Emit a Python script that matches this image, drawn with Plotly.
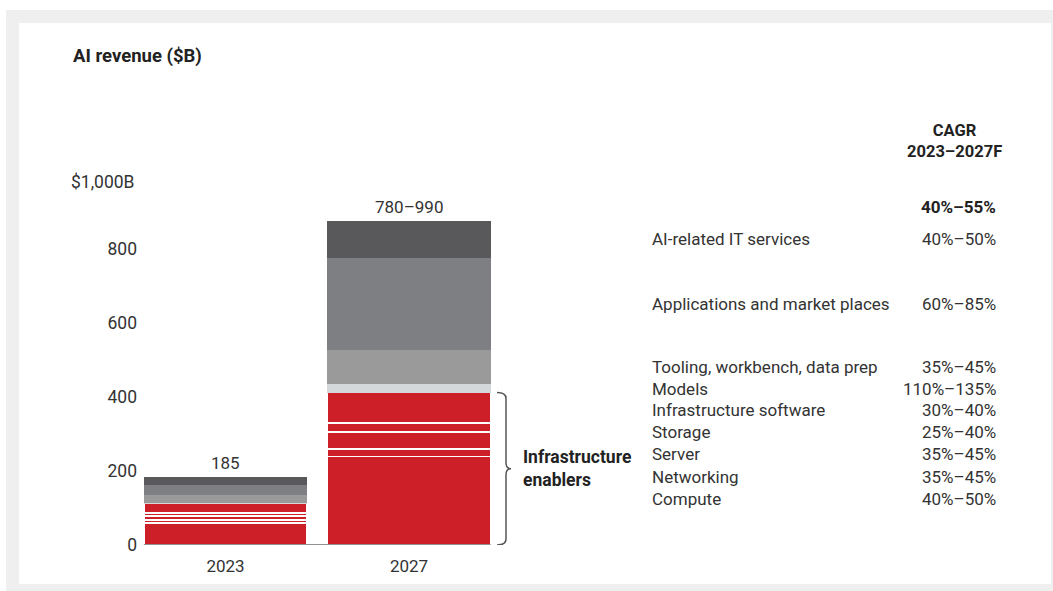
import plotly.graph_objects as go

# ---- data -------------------------------------------------------------
years = ["2023", "2027"]
segments = [
    "Compute",
    "Networking",
    "Server",
    "Storage",
    "Infrastructure software",
    "Models",
    "Tooling, workbench, data prep",
    "Applications and market places",
    "AI-related IT services",
]
values_2023 = [60, 8, 11, 8, 26, 1, 22, 27, 22]
values_2027 = [239, 21, 45, 24, 83, 24, 92, 249, 99]
total_labels = ["185", "780–990"]

# CAGR column, listed top to bottom as printed
cagr_total = "40%–55%"
cagr_labels = [
    "AI-related IT services",
    "Applications and market places",
    "Tooling, workbench, data prep",
    "Models",
    "Infrastructure software",
    "Storage",
    "Server",
    "Networking",
    "Compute",
]
cagr_values = [
    "40%–50%", "60%–85%", "35%–45%", "110%–135%", "30%–40%",
    "25%–40%", "35%–45%", "35%–45%", "40%–50%",
]
y_ticks = [0, 200, 400, 600, 800]
infra_enablers = ["Compute", "Networking", "Server", "Storage", "Infrastructure software"]

# ---- styling ----------------------------------------------------------
W, H = 1053, 591
FIG_H = 601
FONT = "Roboto"
TXT = "#333333"
DARK = "#222222"
RED = "#cd1f27"
colors = {
    "Compute": RED,
    "Networking": RED,
    "Server": RED,
    "Storage": RED,
    "Infrastructure software": RED,
    "Models": "#d5d8da",
    "Tooling, workbench, data prep": "#9a9a9b",
    "Applications and market places": "#7e7f83",
    "AI-related IT services": "#59595b",
}

def px(x):
    return x / W

def py(y):
    return 1 - y / H

BAR_W = 0.89

fig = go.Figure()
for i, seg in enumerate(segments):
    red = seg in infra_enablers
    fig.add_trace(go.Bar(
        x=years,
        y=[values_2023[i], values_2027[i]],
        name=seg,
        width=BAR_W,
        marker=dict(
            color=colors[seg],
            line=dict(color="white", width=1.8 if red else 0),
        ),
        hoverinfo="x+y+name",
    ))

totals = [sum(values_2023), sum(values_2027)]
red_top = sum(v for s, v in zip(segments, values_2027) if s in infra_enablers)

annotations = []
# totals above bars (category index positions)
for idx, (t, lab) in enumerate(zip(totals, total_labels)):
    annotations.append(dict(x=idx, y=t, xref="x", yref="y", text=lab,
                            showarrow=False, yanchor="bottom", yshift=2,
                            font=dict(family=FONT, size=17, color=TXT)))

# title and top tick label
annotations.append(dict(x=px(71), y=py(56), xref="paper", yref="paper",
                        text="<b>AI revenue ($B)</b>", showarrow=False,
                        xanchor="left", yanchor="middle",
                        font=dict(family=FONT, size=18.5, color=DARK)))
annotations.append(dict(x=px(137), y=py(182), xref="paper", yref="paper",
                        text="$1,000B", showarrow=False,
                        xanchor="right", yanchor="middle",
                        font=dict(family=FONT, size=17.5, color=TXT)))

# brace label
annotations.append(dict(x=px(521), y=red_top / 2, xref="paper", yref="y",
                        text="<b>Infrastructure<br>enablers</b>", showarrow=False,
                        xanchor="left", yanchor="middle", align="left",
                        font=dict(family=FONT, size=17.5, color=DARK)))

# CAGR header and total
annotations.append(dict(x=px(954), y=py(141), xref="paper", yref="paper",
                        text="<b>CAGR<br>2023–2027F</b>", showarrow=False,
                        xanchor="center", yanchor="middle", align="center",
                        font=dict(family=FONT, size=16.5, color=DARK)))
annotations.append(dict(x=px(998), y=totals[1], xref="paper", yref="y",
                        text="<b>" + cagr_total + "</b>", showarrow=False,
                        xanchor="right", yanchor="bottom", yshift=2,
                        font=dict(family=FONT, size=17, color=DARK)))

# CAGR rows: the two large segments sit beside their bar blocks,
# the remaining rows form a tight list
seg_2027 = dict(zip(segments, values_2027))
it_mid = totals[1] - seg_2027["AI-related IT services"] / 2
apps_mid = totals[1] - seg_2027["AI-related IT services"] - seg_2027["Applications and market places"] / 2
list_rows_px = [367, 389, 409.5, 431.5, 454, 476.5, 498.5]
for k, (lab, val) in enumerate(zip(cagr_labels, cagr_values)):
    if k == 0:
        yv, yr_ref = it_mid, "y"
    elif k == 1:
        yv, yr_ref = apps_mid, "y"
    else:
        yv, yr_ref = py(list_rows_px[k - 2]), "paper"
    annotations.append(dict(x=px(650), y=yv, xref="paper", yref=yr_ref,
                            text=lab, showarrow=False, xanchor="left",
                            yanchor="middle",
                            font=dict(family=FONT, size=17, color=TXT)))
    annotations.append(dict(x=px(998), y=yv, xref="paper", yref=yr_ref,
                            text=val, showarrow=False, xanchor="right",
                            yanchor="middle",
                            font=dict(family=FONT, size=17, color=TXT)))

# brace "}" beside the red block of the 2027 bar
bx0, bx1, bx2 = px(497), px(506), px(511)
d = 16
mid = red_top / 2
brace = (f"M {bx0},{red_top} Q {bx1},{red_top} {bx1},{red_top - d} "
         f"L {bx1},{mid + d} Q {bx1},{mid} {bx2},{mid} "
         f"Q {bx1},{mid} {bx1},{mid - d} L {bx1},{d} "
         f"Q {bx1},0 {bx0},0")

shapes = [
    # grey frame and white card
    dict(type="rect", xref="paper", yref="paper", x0=px(6), x1=px(1053),
         y0=py(591), y1=py(10), fillcolor="#efefef", line=dict(width=0),
         layer="below"),
    dict(type="rect", xref="paper", yref="paper", x0=px(19), x1=px(1051),
         y0=py(584), y1=py(23), fillcolor="white", line=dict(width=0),
         layer="below"),
    # baseline
    dict(type="line", xref="x", yref="y", x0=-BAR_W / 2, x1=1 + BAR_W / 2,
         y0=0, y1=0, line=dict(color="#6e6e6e", width=1.5), layer="above"),
    dict(type="path", xref="paper", yref="y", path=brace,
         line=dict(color="#555555", width=1.5)),
]

fig.update_layout(
    width=W, height=FIG_H,
    margin=dict(l=0, r=0, t=0, b=0),
    barmode="stack",
    showlegend=False,
    paper_bgcolor="white",
    plot_bgcolor="rgba(0,0,0,0)",
    font=dict(family=FONT, size=17, color=TXT),
    xaxis=dict(domain=[px(133.75), px(500.75)], range=[-0.5, 1.5],
               type="category", showgrid=False, zeroline=False,
               showline=False, ticks="", ticklabelstandoff=9,
               tickfont=dict(size=17, color=TXT)),
    yaxis=dict(domain=[1 - 545 / H, 1 - 175 / H], range=[0, 1000],
               tickvals=y_ticks, showgrid=False, zeroline=False,
               showline=False, ticks="", anchor="free", position=px(137),
               tickfont=dict(size=17.5, color=TXT)),
    shapes=shapes,
    annotations=annotations,
)

fig.write_html("out.html")
